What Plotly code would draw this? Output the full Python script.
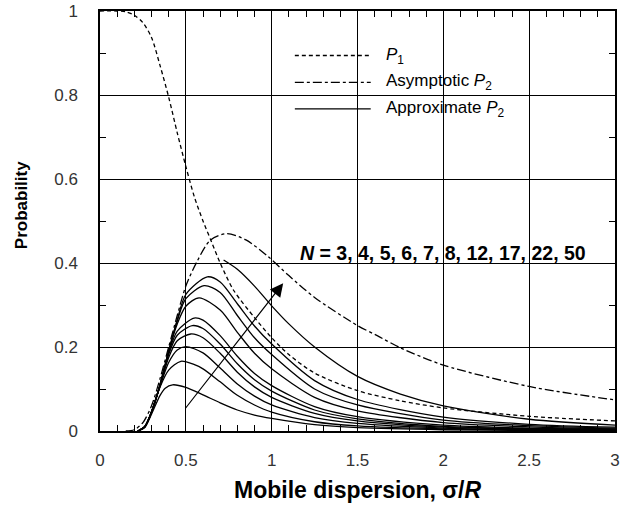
import plotly.graph_objects as go

# ---------------- data ----------------
p1_x = [0.0, 0.1, 0.15, 0.2, 0.25, 0.3, 0.35, 0.4, 0.45, 0.5, 0.55, 0.6, 0.65, 0.7, 0.78,
        0.9, 1.0, 1.1, 1.25, 1.5, 1.75, 2.0, 2.5, 3.0]
p1_y = [1.0, 1.0, 0.998, 0.99, 0.972, 0.937, 0.87, 0.795, 0.71, 0.63, 0.557, 0.5, 0.45, 0.4, 0.334,
        0.27, 0.222, 0.182, 0.138, 0.096, 0.072, 0.055, 0.035, 0.024]

asym_x = [0.15, 0.2, 0.25, 0.3, 0.35, 0.4, 0.45, 0.5, 0.567, 0.644, 0.74, 0.85, 0.98, 1.1,
          1.25, 1.5, 1.615, 1.75, 2.0, 2.5, 3.0]
asym_y = [0.0, 0.003, 0.02, 0.06, 0.125, 0.2, 0.275, 0.345, 0.405, 0.455, 0.47, 0.455, 0.415, 0.37,
          0.318, 0.251, 0.227, 0.198, 0.157, 0.106, 0.074]

n_labels = [3, 4, 5, 6, 7, 8, 12, 17, 22, 50]

approx_x = {
    3:  [0.22, 0.26, 0.3, 0.35, 0.38, 0.423, 0.5, 0.6, 0.7, 0.8, 0.9, 1.0, 1.25, 1.5, 2.0, 2.5, 3.0],
    4:  [0.22, 0.26, 0.3, 0.35, 0.4, 0.471, 0.55, 0.6, 0.7, 0.8, 0.9, 1.0, 1.25, 1.5, 2.0, 2.5, 3.0],
    5:  [0.22, 0.26, 0.3, 0.35, 0.4, 0.45, 0.5, 0.6, 0.7, 0.8, 0.9, 1.0, 1.25, 1.5, 2.0, 2.5, 3.0],
    6:  [0.22, 0.26, 0.3, 0.35, 0.4, 0.45, 0.529, 0.6, 0.7, 0.8, 0.9, 1.0, 1.25, 1.5, 2.0, 2.5, 3.0],
    7:  [0.22, 0.26, 0.3, 0.35, 0.4, 0.45, 0.538, 0.6, 0.7, 0.8, 0.9, 1.0, 1.25, 1.5, 2.0, 2.5, 3.0],
    8:  [0.22, 0.26, 0.3, 0.35, 0.4, 0.45, 0.548, 0.6, 0.7, 0.8, 0.9, 1.0, 1.25, 1.5, 2.0, 2.5, 3.0],
    12: [0.22, 0.26, 0.3, 0.35, 0.4, 0.45, 0.5, 0.577, 0.7, 0.8, 0.9, 1.0, 1.25, 1.5, 2.0, 2.5, 3.0],
    17: [0.22, 0.26, 0.3, 0.35, 0.4, 0.45, 0.5, 0.606, 0.7, 0.8, 0.9, 1.0, 1.25, 1.5, 2.0, 2.5, 3.0],
    22: [0.22, 0.26, 0.3, 0.35, 0.4, 0.45, 0.5, 0.625, 0.7, 0.8, 0.9, 1.0, 1.25, 1.5, 2.0, 2.5, 3.0],
    50: [0.72, 0.8, 0.9, 1.0, 1.1, 1.25, 1.5, 1.75, 2.0, 2.5, 3.0],
}
approx_y = {
    3:  [0, 0.008, 0.04, 0.085, 0.102, 0.110, 0.104, 0.086, 0.067, 0.05, 0.038, 0.03, 0.015, 0.008, 0.003, 0.0015, 0.001],
    4:  [0, 0.009, 0.045, 0.105, 0.145, 0.166, 0.158, 0.148, 0.117, 0.085, 0.062, 0.045, 0.022, 0.012, 0.005, 0.003, 0.0015],
    5:  [0, 0.009, 0.045, 0.107, 0.163, 0.193, 0.201, 0.186, 0.15, 0.112, 0.083, 0.062, 0.032, 0.018, 0.007, 0.0035, 0.002],
    6:  [0, 0.01, 0.045, 0.108, 0.175, 0.215, 0.231, 0.222, 0.185, 0.14, 0.105, 0.08, 0.042, 0.024, 0.009, 0.0045, 0.0025],
    7:  [0, 0.01, 0.045, 0.109, 0.182, 0.228, 0.251, 0.244, 0.207, 0.16, 0.122, 0.095, 0.05, 0.029, 0.011, 0.0055, 0.003],
    8:  [0, 0.01, 0.045, 0.11, 0.186, 0.238, 0.269, 0.264, 0.227, 0.178, 0.137, 0.108, 0.058, 0.034, 0.014, 0.007, 0.004],
    12: [0, 0.01, 0.045, 0.11, 0.19, 0.255, 0.297, 0.317, 0.288, 0.235, 0.185, 0.148, 0.08, 0.048, 0.02, 0.01, 0.005],
    17: [0, 0.01, 0.045, 0.11, 0.19, 0.262, 0.315, 0.346, 0.33, 0.275, 0.222, 0.182, 0.1, 0.062, 0.026, 0.013, 0.007],
    22: [0, 0.01, 0.045, 0.11, 0.19, 0.265, 0.325, 0.367, 0.355, 0.303, 0.25, 0.207, 0.12, 0.075, 0.033, 0.016, 0.009],
    50: [0.407, 0.385, 0.345, 0.298, 0.255, 0.2, 0.13, 0.088, 0.06, 0.028, 0.014],
}

x_ticks = [0, 0.5, 1, 1.5, 2, 2.5, 3]
x_tick_text = ["0", "0.5", "1", "1.5", "2", "2.5", "3"]
y_ticks = [0, 0.2, 0.4, 0.6, 0.8, 1]
y_tick_text = ["0", "0.2", "0.4", "0.6", "0.8", "1"]

arrow_from = (0.49, 0.05)
arrow_to = (1.067, 0.352)

legend_names = ["<i>P</i><sub>1</sub>", "Asymptotic <i>P</i><sub>2</sub>", "Approximate <i>P</i><sub>2</sub>"]

# ---------------- figure ----------------
FONT = "Liberation Sans, Arial, sans-serif"
LW = 1.3
DASH_P1 = "4px,3px"
DASH_ASYM = "9px,3px,3px,3px"

fig = go.Figure()

fig.add_trace(go.Scatter(x=p1_x, y=p1_y, mode="lines",
                         line=dict(color="black", width=LW, dash=DASH_P1, shape="spline", smoothing=0.8),
                         showlegend=False))
fig.add_trace(go.Scatter(x=asym_x, y=asym_y, mode="lines",
                         line=dict(color="black", width=LW, dash=DASH_ASYM, shape="spline", smoothing=0.8),
                         showlegend=False))
for n in n_labels:
    fig.add_trace(go.Scatter(x=approx_x[n], y=approx_y[n], mode="lines",
                             line=dict(color="black", width=LW, shape="spline", smoothing=0.8),
                             showlegend=False))

axis_common = dict(
    ticks="inside", ticklen=6, tickcolor="black", tickwidth=1,
    showline=True, linecolor="black", linewidth=1.5, mirror="ticks",
    showgrid=True, gridcolor="black", gridwidth=1, zeroline=False,
    tickfont=dict(family=FONT, size=17, color="#333"),
    ticklabeloverflow="allow",
)

fig.update_xaxes(range=[0, 3], tickvals=x_ticks, ticktext=x_tick_text, ticklabelstandoff=13,
                 minor=dict(dtick=0.1, ticks="inside", ticklen=6, tickcolor="black", showgrid=False),
                 **axis_common)
fig.update_yaxes(range=[0, 1], tickvals=y_ticks, ticktext=y_tick_text, ticklabelstandoff=17,
                 minor=dict(dtick=0.1, ticks="inside", ticklen=6, tickcolor="black", showgrid=False),
                 **axis_common)

# arrow
fig.add_annotation(x=arrow_to[0], y=arrow_to[1], ax=arrow_from[0], ay=arrow_from[1],
                   xref="x", yref="y", axref="x", ayref="y", text="", showarrow=True,
                   arrowhead=2, arrowsize=2.2, arrowwidth=1.2, arrowcolor="black")

# N label
fig.add_annotation(x=1.154, y=0.425, xref="x", yref="y", xanchor="left", yanchor="middle",
                   text="<i>N</i> = " + ", ".join(str(n) for n in n_labels), showarrow=False,
                   font=dict(family=FONT, size=19.5, color="black", weight="bold"))

# custom legend
leg_y = [0.894, 0.830, 0.767]
leg_dash = [DASH_P1, DASH_ASYM, "solid"]
for name, yy, dsh in zip(legend_names, leg_y, leg_dash):
    fig.add_shape(type="line", xref="x", yref="y", x0=1.135, x1=1.577, y0=yy, y1=yy,
                  line=dict(color="black", width=LW, dash=dsh))
    fig.add_annotation(x=1.654, y=yy, xref="x", yref="y", xanchor="left", yanchor="middle",
                       text=name, showarrow=False,
                       font=dict(family=FONT, size=17, color="black"))

# axis titles as annotations
fig.add_annotation(x=0.5, y=-0.14, xref="paper", yref="paper", xanchor="center", yanchor="middle",
                   text="Mobile dispersion, σ/<i>R</i>", showarrow=False,
                   font=dict(family=FONT, size=23, color="black", weight="bold"))
fig.add_annotation(x=-0.152, y=0.537, xref="paper", yref="paper", xanchor="center", yanchor="middle",
                   text="Probability", textangle=-90, showarrow=False,
                   font=dict(family=FONT, size=17, color="black", weight="bold"))

fig.update_layout(
    width=622, height=513,
    margin=dict(l=100, r=2, t=10, b=82),
    paper_bgcolor="white", plot_bgcolor="white",
    showlegend=False,
)

fig.write_html("out.html")
